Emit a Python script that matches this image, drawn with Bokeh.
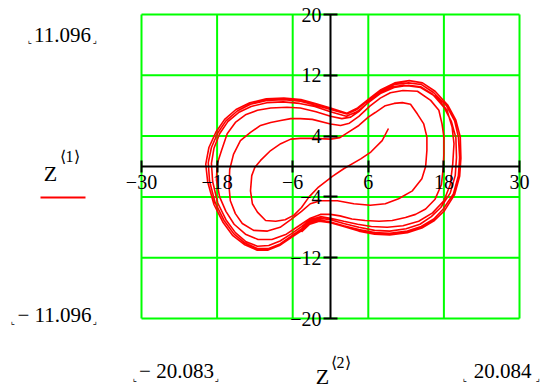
from bokeh.plotting import figure
from bokeh.models import Range1d, FixedTicker, Label, Arrow
from bokeh.embed import file_html
from bokeh.resources import INLINE

# ---------------- data ----------------
x_ticks = [-30, -18, -6, 6, 18, 30]
y_ticks = [-20, -12, -4, 4, 12, 20]

# turn 0 : starts at (9.2, 5.0), innermost loop
t0_x = [9.2, 8.2, 6.4, 4.8, 2.1, 0.3, -1.9, -3.4, -4.6, -5.8, -7.2, -8.7, -10.3, -11.6, -12.4, -12.7, -12.5, -12.0,
        -11.1, -9.5, -7.9, -6.3, -4.8, -2.5, 0.0, 1.5, 2.6, 4.5, 6.0, 7.1, 8.7, 10.1, 11.4, 12.7, 13.8, 14.8, 15.3,
        15.3, 15.1, 14.5, 13.0, 10.8, 8.7, 6.3, 3.7, 1.1, -1.6]
t0_y = [5.0, 3.4, 1.9, 1.0, -0.3, -1.3, -2.7, -4.0, -5.4, -6.4, -7.0, -7.2, -7.1, -6.0, -4.9, -3.2, -1.2, -0.1,
        0.8, 2.1, 3.0, 3.6, 3.7, 3.7, 3.6, 3.8, 4.4, 5.4, 6.5, 7.1, 8.0, 8.3, 8.4, 8.2, 6.9, 5.6, 3.9,
        2.1, 0.0, -1.6, -3.2, -4.25, -4.9, -5.1, -4.9, -4.5, -4.5]
# turn 1
t1_x = [-3.2, -4.6, -6.3, -8.0, -10.0, -12.2, -14.0, -15.1, -15.9, -16.1, -16.0, -15.4, -14.3, -12.7, -11.1, -9.5,
        -7.9, -6.3, -4.8, -2.9, 0.0, 1.6, 3.0, 4.5, 6.2, 7.9, 9.5, 11.5, 13.8, 15.9, 17.2, 17.7, 18.0, 18.0, 17.9,
        17.6, 16.6, 15.1, 13.5, 11.9, 9.8, 7.7, 5.5, 3.4, 1.5, 0.0, -1.6]
t1_y = [-4.9, -5.9, -7.0, -8.0, -8.5, -8.4, -7.5, -6.2, -4.5, -2.7, -0.4, 1.6, 3.4, 4.5, 5.4, 5.8,
        6.05, 6.3, 6.3, 6.2, 5.6, 5.4, 5.7, 6.6, 7.9, 9.0, 9.7, 10.0, 9.9, 8.7, 7.4, 5.6, 3.9, 1.7, -0.1,
        -2.4, -4.3, -5.6, -6.3, -6.7, -7.1, -7.2, -7.1, -6.9, -6.5, -6.3, -6.3]
# turn 2
t2_x = [-3.2, -5.0, -7.0, -9.3, -11.5, -13.5, -15.3, -16.6, -17.6, -18.1, -18.0, -17.3, -16.4, -15.1, -13.5, -11.6,
        -9.5, -6.9, -4.8, -2.3, 0.0, 1.8, 3.2, 4.6, 6.3, 7.9, 9.8, 11.6, 14.3, 16.9, 18.5, 19.3, 19.6, 19.4, 19.0,
        18.0, 16.2, 14.0, 11.5, 9.0, 6.5, 4.3, 2.1, 0.0, -1.6]
t2_y = [-6.8, -7.8, -8.9, -9.6, -9.6, -8.9, -7.6, -5.9, -4.0, -1.8, 0.3, 2.1, 4.3, 5.8, 6.8, 7.4,
        7.7, 7.8, 7.7, 7.2, 6.6, 6.3, 6.5, 7.3, 8.7, 9.8, 10.5, 10.7, 10.4, 9.1, 7.4, 5.2, 3.0, 0.3, -2.4,
        -4.5, -6.1, -7.2, -7.8, -8.0, -7.9, -7.6, -7.2, -6.8, -6.6]
# turn 3
t3_x = [-3.2, -4.6, -6.3, -8.0, -9.8, -11.6, -13.4, -15.1, -16.6, -17.9, -18.7, -18.9, -18.5, -17.6, -16.3, -14.6,
        -12.6, -10.1, -7.5, -4.9, -2.5, 0.0, 2.5, 4.2, 6.0, 7.9, 10.1, 12.4, 14.3, 16.2, 18.0, 19.2, 19.9, 20.0,
        19.8, 19.0, 17.5, 16.0, 14.2, 12.0, 9.4, 7.0, 4.5, 2.1, 0.0, -1.8]
t3_y = [-7.0, -7.9, -8.9, -9.8, -10.4, -10.5, -9.9, -8.7, -7.0, -4.8, -2.0, 0.4, 2.4, 4.3, 5.9, 7.1,
        7.9, 8.4, 8.5, 8.3, 7.9, 7.2, 6.6, 7.2, 8.4, 9.6, 10.4, 10.7, 10.5, 9.5, 7.8, 5.9, 3.8, 1.2,
        -1.2, -3.5, -5.4, -6.6, -7.6, -8.2, -8.5, -8.4, -8.0, -7.5, -7.0, -6.8]
# turn 4
t4_x = [-3.2, -4.6, -6.3, -8.0, -9.8, -11.6, -13.5, -15.3, -16.9, -18.3, -19.2, -19.4, -18.9, -17.9, -16.6, -14.8,
        -12.7, -10.1, -7.4, -4.8, -2.5, 0.0, 2.6, 4.2, 6.0, 7.9, 10.1, 12.4, 14.4, 16.4, 18.4, 19.7, 20.3, 20.5,
        20.3, 19.5, 17.9, 16.4, 14.4, 12.2, 9.4, 7.0, 4.5, 2.1, 0.0, -1.8]
t4_y = [-7.2, -8.2, -9.2, -10.2, -10.8, -10.8, -10.1, -8.9, -7.1, -4.8, -1.9, 0.5, 2.5, 4.4, 6.0, 7.3,
        8.2, 8.7, 8.8, 8.6, 8.1, 7.5, 6.9, 7.5, 8.7, 9.9, 10.8, 11.0, 10.8, 9.7, 8.0, 6.0, 3.9, 1.2,
        -1.2, -3.6, -5.6, -6.9, -7.9, -8.5, -8.8, -8.7, -8.3, -7.8, -7.3, -7.0]
# turn 5 (outermost)
t5_x = [-3.2, -4.5, -6.3, -8.1, -9.9, -11.7, -13.6, -15.5, -17.1, -18.5, -19.5, -19.8, -19.3, -18.2, -16.8, -15.0,
        -12.8, -10.2, -7.4, -4.7, -2.4, 0.0, 2.6, 4.3, 6.1, 8.0, 10.2, 12.5, 14.6, 16.6, 18.6, 19.9, 20.6, 20.7,
        20.5, 19.7, 18.1, 16.5, 14.5, 12.2, 9.4, 7.0, 4.5, 2.1, 0.0, -1.8, -3.3, -4.6]
t5_y = [-7.4, -8.4, -9.4, -10.4, -11.0, -11.0, -10.3, -9.1, -7.3, -5.0, -2.0, 0.3, 2.5, 4.5, 6.2, 7.5,
        8.4, 8.9, 9.0, 8.8, 8.3, 7.7, 7.0, 7.7, 8.9, 10.1, 11.0, 11.3, 11.0, 9.9, 8.1, 6.1, 3.9, 1.1,
        -1.3, -3.7, -5.8, -7.1, -8.1, -8.7, -9.0, -8.9, -8.5, -7.9, -7.4, -7.2, -7.6, -8.6]

z2 = t0_x + t1_x + t2_x + t3_x + t4_x + t5_x
z1 = t0_y + t1_y + t2_y + t3_y + t4_y + t5_y

y_lim_labels = ["11.096", "\u2212 11.096"]
x_lim_labels = ["\u2212 20.083", "20.084"]
y_name = ["Z", "\u27e81\u27e9"]
x_name = ["Z", "\u27e82\u27e9"]

SERIF = "'Liberation Serif', 'Times New Roman', serif"

# ---------------- layout geometry ----------------
W, H = 542, 388
X0, X1, Y0, Y1 = x_ticks[0], x_ticks[-1], y_ticks[0], y_ticks[-1]
PL, PR, PT, PB = 141, 519, 14, 318          # plot box on the page (px)
KX = (X1 - X0) / (PR - PL)
KY = (Y1 - Y0) / (PB - PT)

def dx(px):
    return X0 + (px - PL) * KX

def dy(py):
    return Y1 - (py - PT) * KY

# the frame covers the whole canvas so nothing gets clipped
p = figure(width=W, height=H, output_backend="svg", toolbar_location=None,
           x_range=Range1d(dx(0), dx(W)), y_range=Range1d(dy(H), dy(0)),
           min_border_left=0, min_border_right=0, min_border_top=0, min_border_bottom=0)
p.background_fill_color = "white"
p.border_fill_color = "white"
p.outline_line_color = None
p.xgrid.visible = False
p.ygrid.visible = False

GREEN = "#00ff00"
# green grid (including the box edges) limited to the plot box
p.segment(x0=x_ticks, y0=[Y0] * len(x_ticks), x1=x_ticks, y1=[Y1] * len(x_ticks),
          line_color=GREEN, line_width=2)
p.segment(x0=[X0] * len(y_ticks), y0=y_ticks, x1=[X1] * len(y_ticks), y1=y_ticks,
          line_color=GREEN, line_width=2)

p.line(z2, z1, line_color="#ff0000", line_width=1.6)

xa = p.xaxis[0]
ya = p.yaxis[0]
xa.fixed_location = 0
ya.fixed_location = 0
xa.bounds = (X0, X1)
ya.bounds = (Y0, Y1)
xa.ticker = FixedTicker(ticks=x_ticks)
ya.ticker = FixedTicker(ticks=y_ticks)
for ax, tk in ((xa, 6), (ya, 7)):
    ax.axis_line_color = "black"
    ax.axis_line_width = 2
    ax.major_tick_line_color = "black"
    ax.major_tick_line_width = 2
    ax.major_tick_in = tk
    ax.major_tick_out = tk
    ax.minor_tick_in = 0
    ax.minor_tick_out = 0
    ax.major_label_text_font = SERIF
    ax.major_label_text_font_size = "20px"
    ax.major_label_text_color = "black"
    ax.major_label_standoff = 2


def lab(text, px, py, align="center", size="20px", font=SERIF, color="black"):
    p.add_layout(Label(x=dx(px), y=dy(py), text=text, text_align=align, text_baseline="middle",
                       text_font=font, text_font_size=size, text_color=color))

lab(y_lim_labels[0], 62, 34, size="21px")
lab(y_lim_labels[1], 54, 314, size="21px")
lab(y_name[0], 50, 173, size="22px")
lab(y_name[1], 69, 156, size="16px")
lab(x_lim_labels[0], 176, 370, size="21px")
lab(x_name[0], 322, 376, size="22px")
lab(x_name[1], 340, 362, size="16px")
lab(x_lim_labels[1], 502, 370, size="21px")

# small placeholder corner marks
for (bx, by, t) in [(29, 39, "\u231e"), (94, 39, "\u231f"), (12, 320, "\u231e"), (94, 320, "\u231f"),
                    (134, 377, "\u231e"), (216, 377, "\u231f"), (464, 377, "\u231e"), (537, 377, "\u231f")]:
    lab(t, bx, by, size="9px", font="DejaVu Sans")

# red legend line under Z<1>
p.add_layout(Arrow(end=None, x_start=dx(40), y_start=dy(197), x_end=dx(85), y_end=dy(197),
                   line_color="#ff0000", line_width=2))

open("out.html", "w").write(file_html(p, INLINE))
